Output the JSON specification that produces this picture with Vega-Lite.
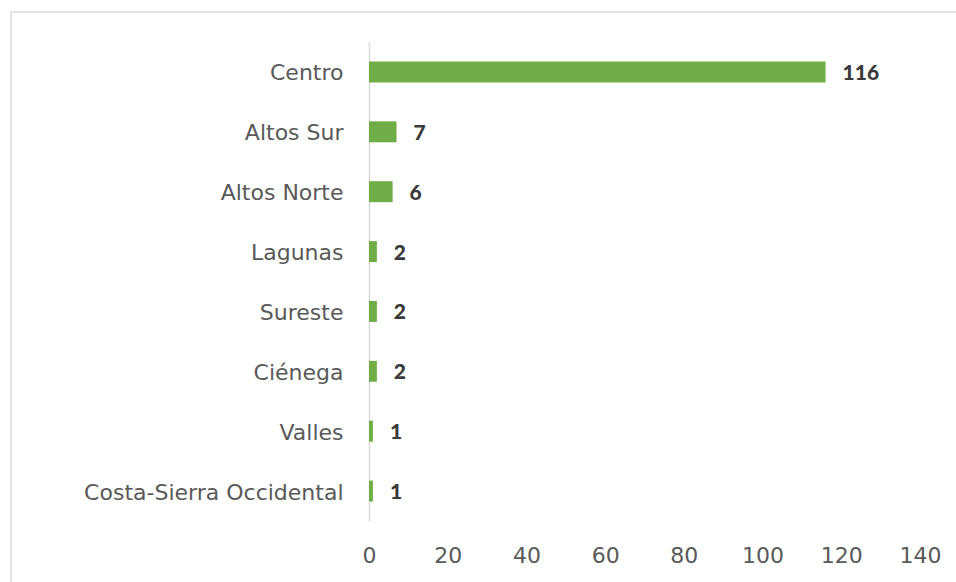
{
  "$schema": "https://vega.github.io/schema/vega-lite/v6.json",
  "width": 960,
  "height": 580,
  "autosize": "none",
  "padding": {"left": 11, "top": 12, "right": 0, "bottom": 0},
  "background": "white",
  "config": {
    "view": {"stroke": "#d9d9d9", "strokeWidth": 1.5},
    "font": "DejaVu Sans"
  },
  "data": {
    "values": [
      {"region": "Centro", "count": 116},
      {"region": "Altos Sur", "count": 7},
      {"region": "Altos Norte", "count": 6},
      {"region": "Lagunas", "count": 2},
      {"region": "Sureste", "count": 2},
      {"region": "Ciénega", "count": 2},
      {"region": "Valles", "count": 1},
      {"region": "Costa-Sierra Occidental", "count": 1}
    ]
  },
  "encoding": {
    "y": {
      "field": "region",
      "type": "nominal",
      "sort": null,
      "scale": {"range": [30, 509], "paddingInner": 0.65, "paddingOuter": 0.325},
      "axis": {
        "title": null,
        "offset": -358,
        "domainColor": "#d9d9d9",
        "domainWidth": 1.5,
        "ticks": false,
        "labelPadding": 26,
        "labelOffset": 1.5,
        "labelFontSize": 22,
        "labelColor": "#595959",
        "labelFont": "DejaVu Sans",
        "labelLimit": 0
      }
    },
    "x": {
      "field": "count",
      "type": "quantitative",
      "scale": {"domain": [0, 140], "range": [358, 909], "nice": false},
      "axis": {
        "title": null,
        "offset": -49,
        "values": [0, 20, 40, 60, 80, 100, 120, 140],
        "domain": false,
        "ticks": false,
        "grid": false,
        "labelPadding": 2,
        "labelFontSize": 22,
        "labelColor": "#595959",
        "labelFont": "DejaVu Sans",
        "labelFlush": false
      }
    }
  },
  "layer": [
    {"mark": {"type": "bar", "color": "#70AD47"}},
    {
      "mark": {
        "type": "text",
        "align": "left",
        "baseline": "middle",
        "dx": 17,
        "dy": 2,
        "fontSize": 21,
        "fontWeight": 900,
        "font": "Lato",
        "color": "#3a3a3a"
      },
      "encoding": {"text": {"field": "count", "type": "quantitative"}}
    }
  ]
}
